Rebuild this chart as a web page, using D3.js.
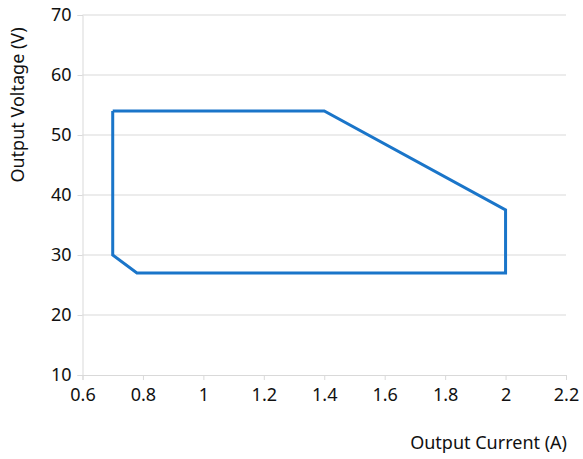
<!DOCTYPE html>
<html>
<head>
<meta charset="utf-8">
<script src="https://cdn.jsdelivr.net/npm/d3@7"></script>
<style>
  body { margin: 0; background: #fff; }
  svg text { font-family: "Noto Sans", "Open Sans", sans-serif; fill: #111; }
</style>
</head>
<body>
<svg width="583" height="459"></svg>
<script>
// operating area boundary (A, V)
var currentA = [0.7, 1.4, 2.0, 2.0, 0.78, 0.7, 0.7];
var voltageV = [54, 54, 37.5, 27, 27, 30, 54];
var xTicks = [0.6, 0.8, 1, 1.2, 1.4, 1.6, 1.8, 2, 2.2];
var yTicks = [10, 20, 30, 40, 50, 60, 70];

function drawChart()
{
    var left = 82.5, right = 566, top = 15, bottom = 375;

    var svg = d3.select("svg");

    var xScale = d3.scaleLinear()
                    .domain([0.6, 2.2])
                    .range([left, right]);
    var yScale = d3.scaleLinear()
                    .domain([10, 70])
                    .range([bottom, top]);

    // gridlines
    svg.append("g")
        .selectAll("line")
        .data(yTicks.slice(1))
        .enter()
        .append("line")
        .attr("x1", left)
        .attr("x2", right)
        .attr("y1", d => yScale(d))
        .attr("y2", d => yScale(d))
        .style("stroke", "#d9d9d9")
        .style("stroke-width", 1);

    var x_axis = d3.axisBottom(xScale)
                    .tickValues(xTicks)
                    .tickFormat(d3.format("~g"))
                    .tickSize(5)
                    .tickPadding(5);
    var y_axis = d3.axisLeft(yScale)
                    .tickValues(yTicks)
                    .tickSize(5)
                    .tickPadding(6);

    var gx = svg.append("g")
        .attr("transform", `translate(0, ${bottom})`)
        .call(x_axis);
    var gy = svg.append("g")
        .attr("transform", `translate(${left}, 0)`)
        .call(y_axis);

    [gx, gy].forEach(function(g) {
        g.select(".domain").style("stroke", "#d9d9d9");
        g.selectAll(".tick line").style("stroke", "#d9d9d9");
        g.selectAll(".tick text")
            .style("font-size", "18px")
            .style("fill", "#111");
    });
    gx.selectAll(".tick text").attr("dy", "0.9em");

    var pts = currentA.map((c, i) => [c, voltageV[i]]);
    var line = d3.line()
        .x(d => xScale(d[0]))
        .y(d => yScale(d[1]));

    svg.append("path")
        .attr("d", line(pts))
        .style("fill", "none")
        .style("stroke", "#1a75c9")
        .style("stroke-width", 3)
        .style("stroke-linejoin", "miter");

    svg.append("text")
        .attr("transform", "translate(24, 105) rotate(-90)")
        .attr("text-anchor", "middle")
        .style("font-size", "18px")
        .text("Output Voltage (V)");

    svg.append("text")
        .attr("x", 567)
        .attr("y", 449)
        .attr("text-anchor", "end")
        .style("font-size", "18px")
        .text("Output Current (A)");
}

drawChart();
</script>
</body>
</html>
